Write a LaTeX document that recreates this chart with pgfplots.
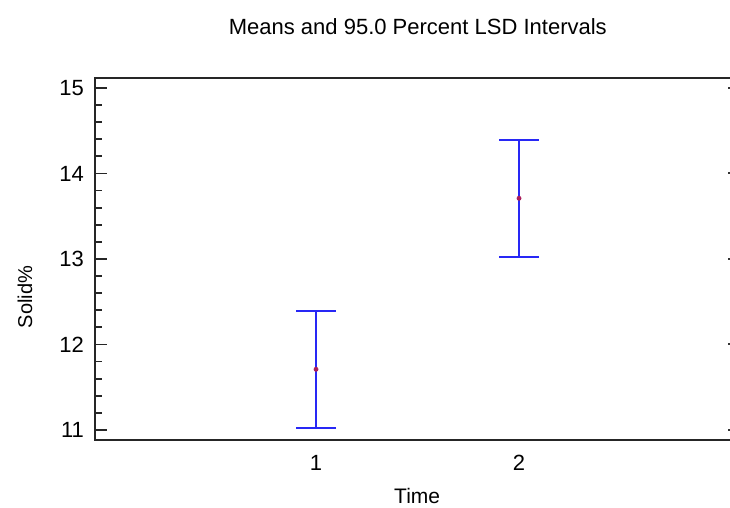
\documentclass[border=0pt]{standalone}
\usepackage{fontspec}
\setmainfont{Liberation Sans}
\usepackage{pgfplots}
\pgfplotsset{compat=1.18}

\definecolor{barblue}{RGB}{40,40,245}
\definecolor{meanred}{RGB}{170,30,90}

\begin{document}
\begin{tikzpicture}
% page = 730x508 px at 0.5pt per px
\useasboundingbox (-47.5pt,-34pt) rectangle (317.5pt,220pt);
\begin{axis}[
    at={(0,0)}, anchor=south west,
    scale only axis,
    width=319pt, height=181pt,
    xmin=-0.0887, xmax=3.054,
    ymin=10.883, ymax=15.117,
    axis line style={line width=0.9pt, black!85},
    xtick={1,2},
    ytick={11,12,13,14,15},
    minor y tick num=4,
    tick align=inside,
    xtick pos=bottom, ytick pos=left,
    x tick style={draw=none},
    y tick style={line width=0.9pt, black!85},
    major tick length=6pt,
    minor tick length=3.5pt,
    /pgf/number format/assume math mode=true,
    yticklabel style={font=\fontsize{11}{13}\selectfont, xshift=-2pt},
    xticklabel style={font=\fontsize{11}{13}\selectfont, yshift=-4pt},
    clip=false,
]

\addplot[
    only marks,
    mark=*, mark size=1pt, color=meanred,
    error bars/.cd,
        y dir=both, y explicit,
        error bar style={line width=1pt, barblue},
        error mark options={rotate=90, mark size=10pt, line width=1pt, barblue},
] coordinates {
    (1,11.71) +- (0,0.685)
    (2,13.71) +- (0,0.685)
};

% small ticks on the right edge
\pgfplotsinvokeforeach{11,12,13,14,15}{
    \draw[line width=1pt, black!80] (axis cs:3.054,#1) -- ++(-2.5pt,0pt);
}

\node[font=\fontsize{11}{13}\selectfont] at ([yshift=25.5pt]rel axis cs:0.506,1) {Means and 95.0 Percent LSD Intervals};
\node[font=\fontsize{10}{12}\selectfont, rotate=90] at ([xshift=-35pt]rel axis cs:0,0.395) {Solid\%};
\node[font=\fontsize{10.5}{12}\selectfont] at ([yshift=-28pt]rel axis cs:0.505,0) {Time};
\end{axis}
\end{tikzpicture}
\end{document}
